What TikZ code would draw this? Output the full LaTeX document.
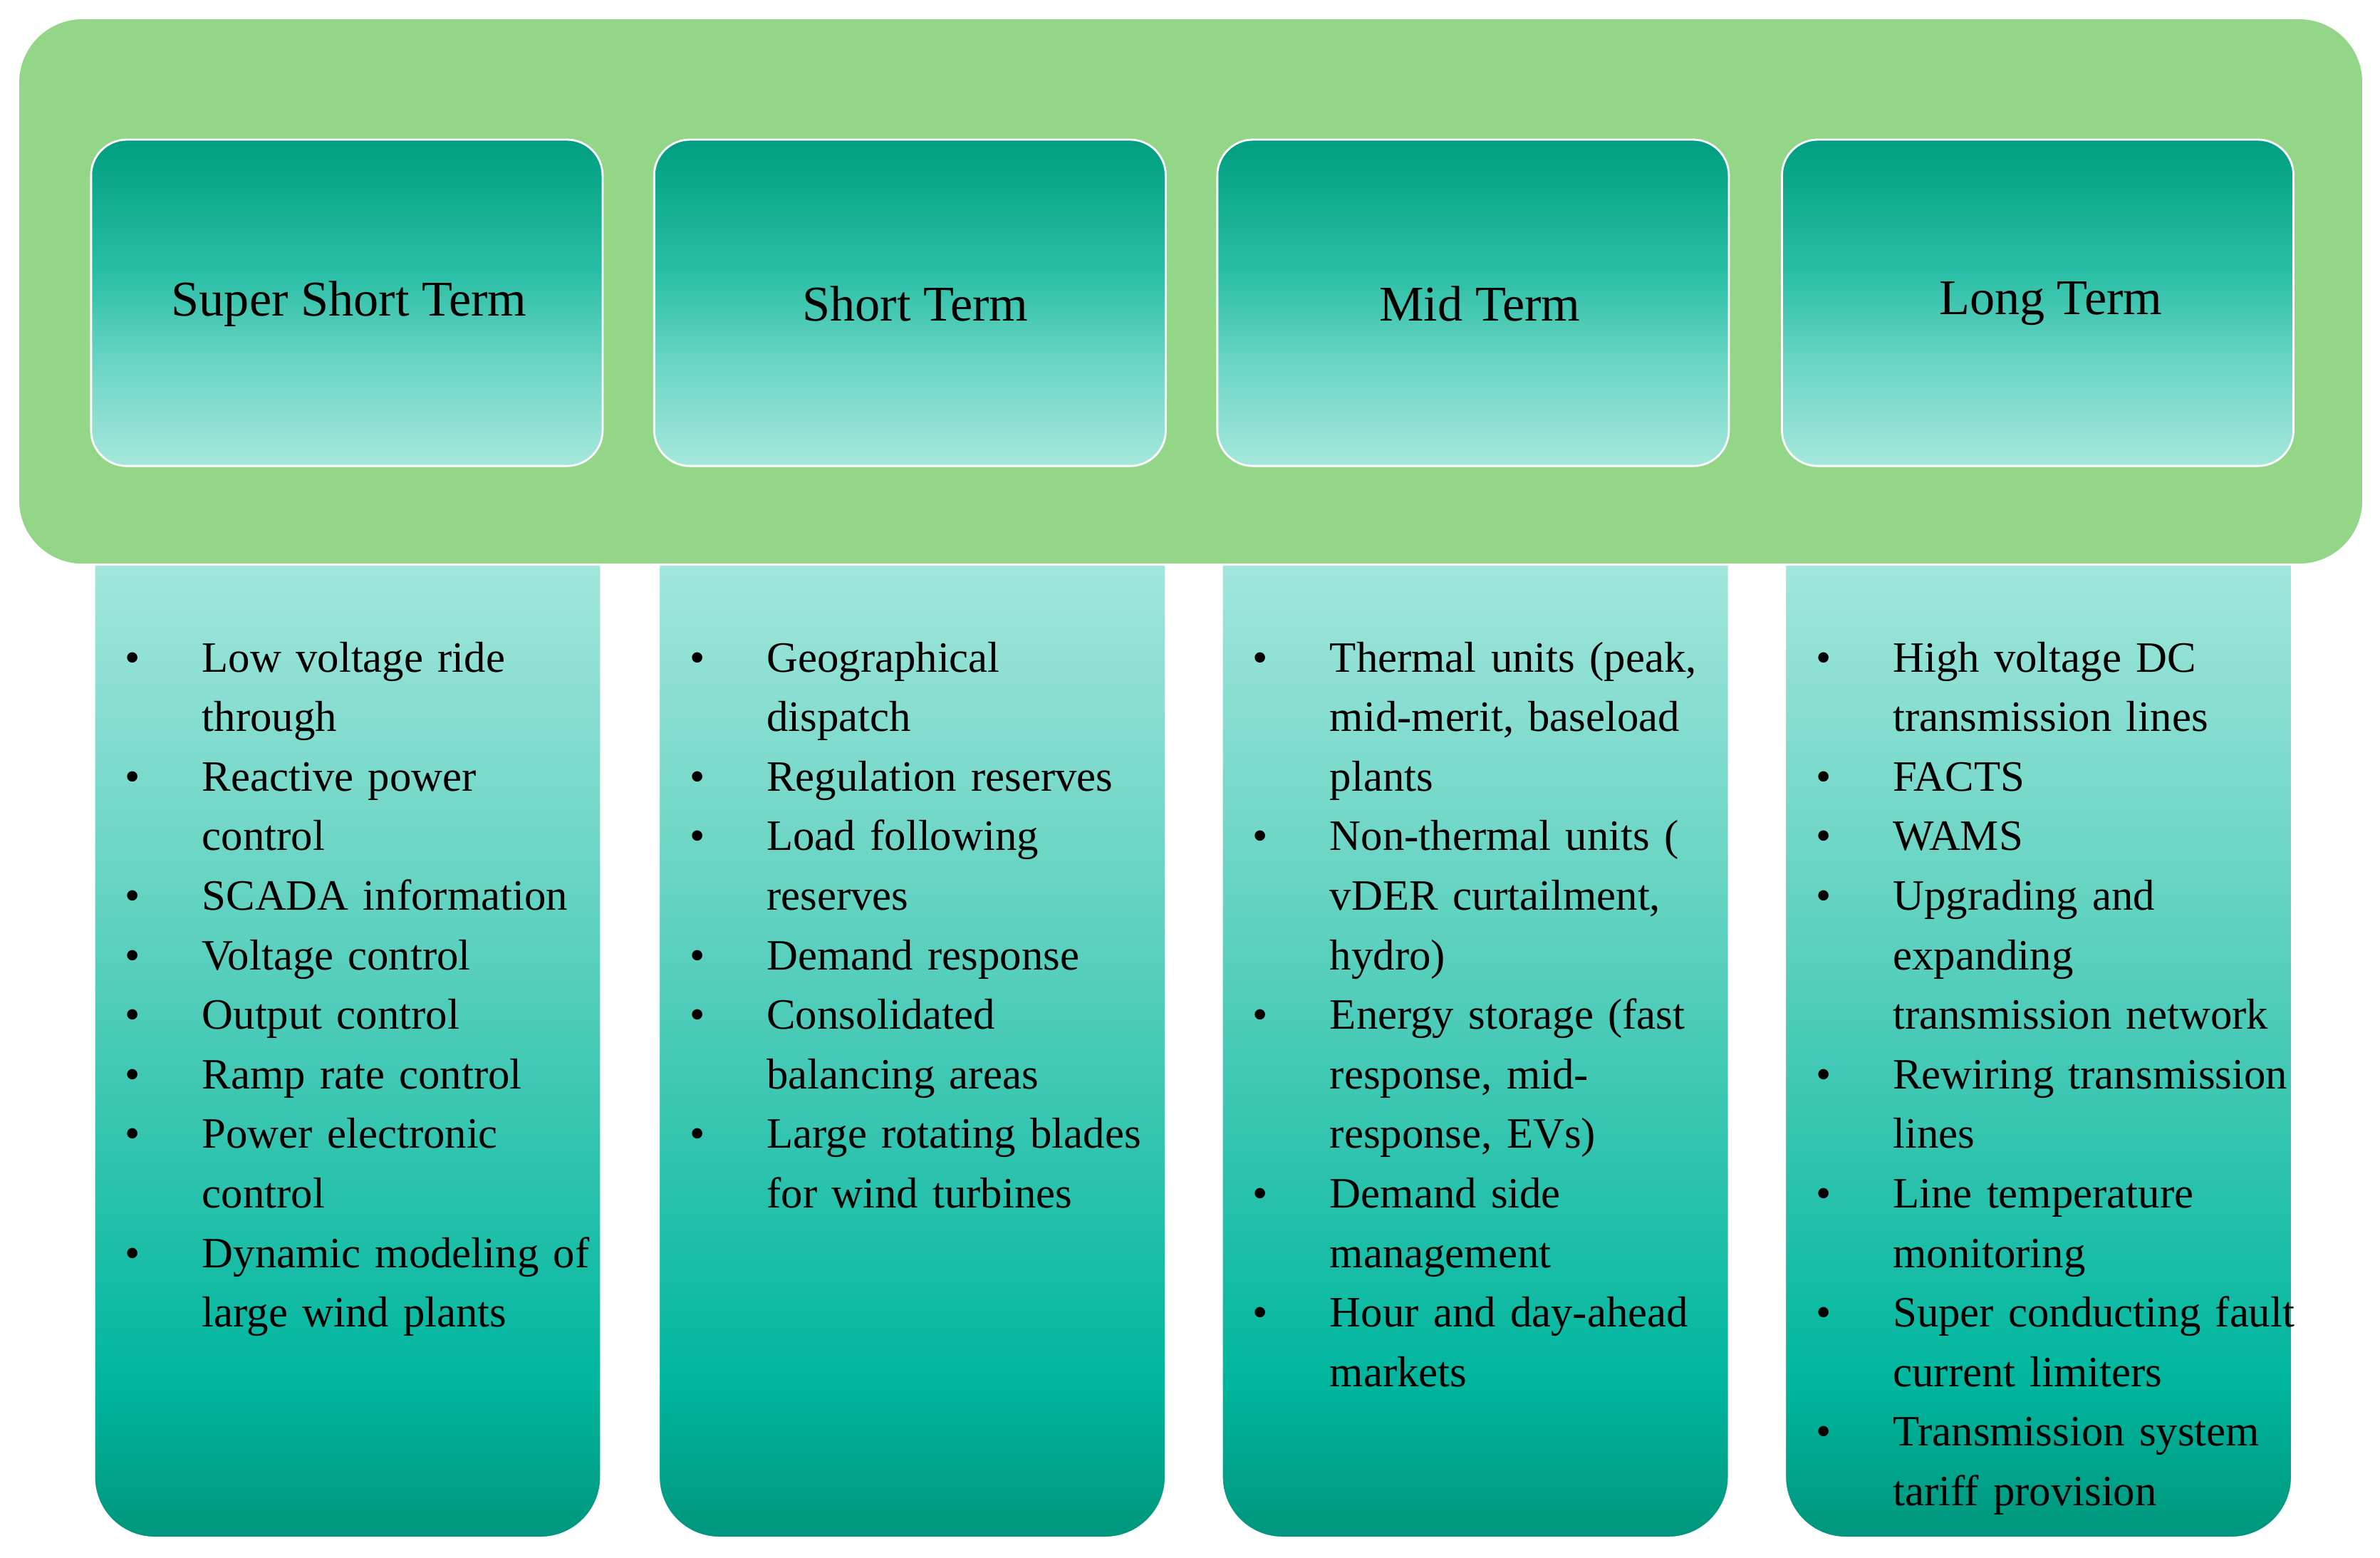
\documentclass[tikz,border=0pt]{standalone}
\usepackage{fontspec}
\setmainfont{Liberation Serif}
\definecolor{gr}{HTML}{93D688}
\definecolor{cA}{RGB}{166,232,220}
\definecolor{cB}{RGB}{110,214,198}
\definecolor{cC}{RGB}{40,190,165}
\definecolor{cD}{RGB}{0,158,128}
\definecolor{cE}{RGB}{0,150,125}
\definecolor{cF}{RGB}{0,182,158}
\definecolor{cG}{RGB}{90,208,190}
\definecolor{cH}{RGB}{162,230,220}
\pgfdeclareverticalshading{topbox}{100bp}{color(0bp)=(cA); color(25bp)=(cA); color(40bp)=(cB); color(55bp)=(cC); color(75bp)=(cD); color(100bp)=(cD)}
\pgfdeclareverticalshading{botbox}{100bp}{color(0bp)=(cE); color(25bp)=(cE); color(33bp)=(cF); color(55bp)=(cG); color(75bp)=(cH); color(100bp)=(cH)}
\newcommand{\itm}[1]{\par\noindent\llap{\makebox[1.08cm][l]{\textbullet}}#1}
\tikzset{
  tb/.style={shading=topbox,draw=white,line width=0.8pt,rounded corners=0.5cm},
  bb/.style={shading=botbox,draw=white,line width=0.8pt},
  ttl/.style={font=\fontsize{20}{24}\selectfont,inner sep=0},
  lst/.style={anchor=north west,inner sep=0,text width=5.62cm,align=left,font=\fontsize{17.3}{23.8}\selectfont,xshift=1.51cm}
}
\begin{document}
\begin{tikzpicture}[x=0.02131cm,y=-0.02131cm]
\useasboundingbox (0,0) rectangle (1568,1026);
\fill[white] (0,0) rectangle (1568,1026);
\fill[gr,draw=white,line width=0.8pt,rounded corners=0.9cm] (12,12) rectangle (1557,372);
\foreach \x in {60,431,802,1174}{
  \path[tb] (\x,92) rectangle (\x+337,307);
}
\foreach \x in {62,434,805,1176}{
  \path[bb] (\x,372) [rounded corners=0.85cm] -- (\x,1013) -- (\x+334,1013) [sharp corners] -- (\x+334,372) -- cycle;
}
\node[ttl] (t1) at (230,200) {Super Short Term};
\node[ttl] (t2) at (603,200) {Short Term};
\node[ttl] (t3) at (975,200) {Mid Term};
\node[ttl] (t4) at (1351,200) {Long Term};
\node[lst] (l1) at (62,403) {\raggedright
\itm{Low voltage ride through}
\itm{Reactive power control}
\itm{SCADA information}
\itm{Voltage control}
\itm{Output control}
\itm{Ramp rate control}
\itm{Power electronic control}
\itm{Dynamic modeling of large wind plants}};
\node[lst] (l2) at (434,403) {\raggedright
\itm{Geographical\\dispatch}
\itm{Regulation reserves}
\itm{Load following reserves}
\itm{Demand response}
\itm{Consolidated balancing areas}
\itm{Large rotating blades for wind turbines}};
\node[lst] (l3) at (805,403) {\raggedright
\itm{Thermal units (peak, mid-merit, baseload plants}
\itm{Non-thermal units (\\vDER curtailment, hydro)}
\itm{Energy storage (fast response, mid-\\response, EVs)}
\itm{Demand side management}
\itm{Hour and day-ahead markets}};
\node[lst] (l4) at (1176,403) {\raggedright
\itm{High voltage DC transmission lines}
\itm{FACTS}
\itm{WAMS}
\itm{Upgrading and\\expanding\\transmission network}
\itm{Rewiring transmission lines}
\itm{Line temperature monitoring}
\itm{\makebox[5.62cm][l]{Super conducting fault}\\current limiters}
\itm{Transmission system tariff provision}};
\end{tikzpicture}
\end{document}
